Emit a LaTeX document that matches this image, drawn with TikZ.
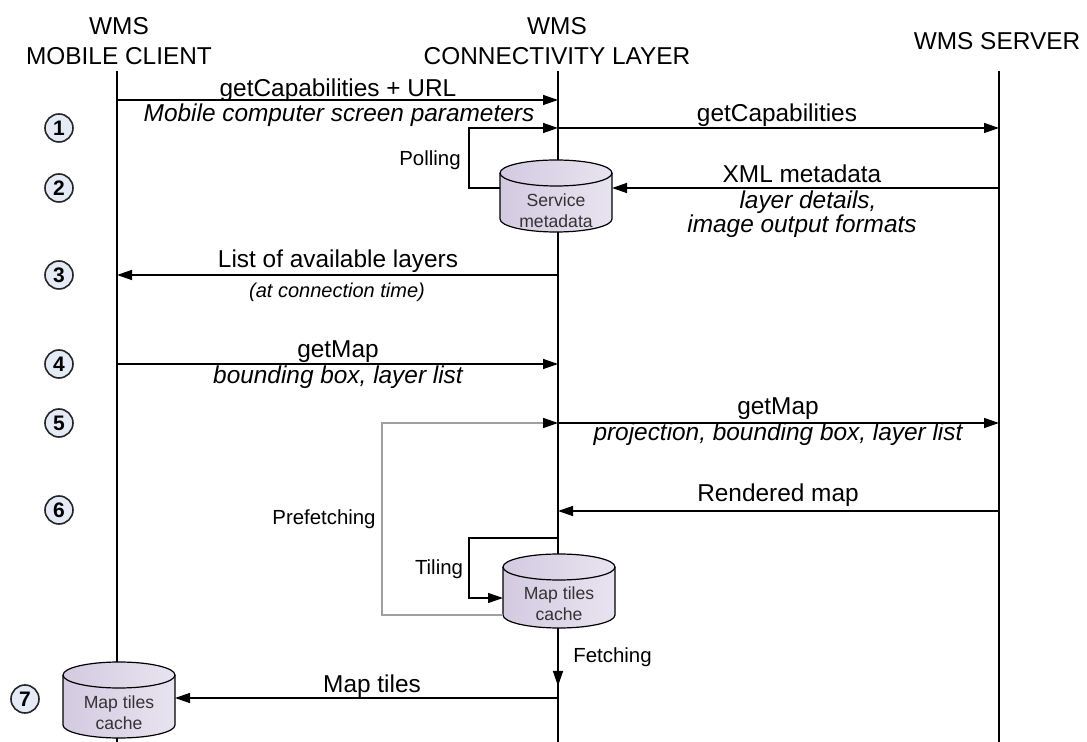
\documentclass[tikz,border=0pt]{standalone}
\usepackage{fontspec}
\setmainfont{Liberation Sans}
\usetikzlibrary{arrows.meta,calc}
\definecolor{cylA}{HTML}{D3CAE0}
\definecolor{cylB}{HTML}{E8E3F0}
\definecolor{numfill}{HTML}{E4EAF6}
\definecolor{loopgray}{HTML}{A0A0A0}
\definecolor{txtgray}{HTML}{333333}
\newcommand\dbcyl[1]{%
 \path[draw=black, line width=0.6pt, left color=cylA, right color=cylB]
  ($(#1.north west)+(0,-6.5pt)$) -- ($(#1.south west)+(0,6.5pt)$)
  arc[start angle=180,end angle=360,x radius=28pt,y radius=6.5pt]
  -- ($(#1.north east)+(0,-6.5pt)$)
  arc[start angle=0,end angle=180,x radius=28pt,y radius=6.5pt] -- cycle;
 \draw[line width=0.6pt] ($(#1.north west)+(0,-6.5pt)$)
  arc[start angle=180,end angle=360,x radius=28pt,y radius=6.5pt];
}
\begin{document}
\begin{tikzpicture}[x=0.5pt,y=0.5pt,
  lifeline/.style={line width=0.75pt},
  msg/.style={line width=0.7pt,-{Triangle[length=7.5pt,width=5pt]}},
  graymsg/.style={line width=0.75pt,draw=loopgray,-{Triangle[length=7.5pt,width=5pt,color=black]}},
  hdr/.style={font=\fontsize{12.2}{15}\selectfont,align=center,inner sep=0},
  lbl/.style={font=\fontsize{12.2}{14}\selectfont,inner sep=0,anchor=base},
  ilbl/.style={font=\fontsize{12.2}{14}\selectfont\itshape,inner sep=0,anchor=base},
  tlbl/.style={font=\fontsize{10}{12}\selectfont\itshape,inner sep=0,anchor=base},
  slbl/.style={font=\fontsize{10.2}{12}\selectfont,inner sep=0,anchor=base},
  num/.style={circle,draw=black!85,line width=0.8pt,fill=numfill,minimum size=14pt,inner sep=0,font=\fontsize{10.5}{11}\selectfont\bfseries},
  cylbox/.style={rectangle,minimum width=56pt,inner sep=0,outer sep=0},
  cyltxt/.style={font=\fontsize{8.8}{10.5}\selectfont,text=txtgray,align=center,inner sep=0}]
\useasboundingbox (0,0) rectangle (1087,-742);

% headers
\node[hdr] (hcl) at (119,-41) {WMS\\MOBILE CLIENT};
\node[hdr] (hcn) at (557,-41) {WMS\\CONNECTIVITY LAYER};
\node[hdr,anchor=base] (hsv) at (997,-50) {WMS SERVER};

% lifelines
\coordinate (cl) at (117,-71);
\coordinate (cn) at (558,-71);
\coordinate (sv) at (999,-71);
\coordinate (clb) at (117,-742);
\coordinate (cnb) at (558,-742);
\coordinate (svb) at (999,-742);
\draw[lifeline] (cl) -- (clb);
\draw[lifeline] (cn) -- (cnb);
\draw[lifeline] (sv) -- (svb);

% cylinders
\node[cylbox,minimum height=36pt] (sm) at (556,-196) {};
\dbcyl{sm}
\node[cyltxt] (smt) at (556,-211) {Service\\metadata};
\node[cylbox,minimum height=37pt] (mt) at (559,-591) {};
\dbcyl{mt}
\node[cyltxt] (mtt) at (559,-604) {Map tiles\\cache};
\node[cylbox,minimum height=38pt] (cc) at (119,-700) {};
\dbcyl{cc}
\node[cyltxt] (cct) at (119,-713) {Map tiles\\cache};

% step numbers
\node[num] (n1) at (59,-128) {1};
\node[num] (n2) at (59,-188) {2};
\node[num] (n3) at (59,-275) {3};
\node[num] (n4) at (59,-364) {4};
\node[num] (n5) at (59,-423) {5};
\node[num] (n6) at (59,-510) {6};
\node[num] (n7) at (25,-699) {7};

% 1
\draw[msg] (cl |- 0,-100) -- (cn |- 0,-100);
\node[lbl] (l1a) at (338,-97) {getCapabilities + URL};
\node[ilbl] (l1b) at (339,-122) {Mobile computer screen parameters};
\draw[msg] (cn |- 0,-128) -- (sv |- 0,-128);
\node[lbl] (l1c) at (777,-122) {getCapabilities};

% polling
\coordinate (pollc) at (469,-128);
\draw[msg] (sm.west |- 0,-188) -| (pollc) -- (cn |- pollc);
\node[slbl] (lpoll) at (430,-166) {Polling};

% 2
\draw[msg] (sv |- 0,-188) -- (sm.east |- 0,-188);
\node[lbl] (l2a) at (802,-183) {XML metadata};
\node[ilbl] (l2b) at (808,-209) {layer details,};
\node[ilbl] (l2c) at (802,-233) {image output formats};

% 3
\draw[msg] (cn |- 0,-275) -- (cl |- 0,-275);
\node[lbl] (l3a) at (338,-268) {List of available layers};
\node[tlbl] (l3b) at (337,-298) {(at connection time)};

% 4
\draw[msg] (cl |- 0,-364) -- (cn |- 0,-364);
\node[lbl] (l4a) at (338,-358) {getMap};
\node[ilbl] (l4b) at (338,-384) {bounding box, layer list};

% 5
\draw[msg] (cn |- 0,-423) -- (sv |- 0,-423);
\node[lbl] (l5a) at (778,-415) {getMap};
\node[ilbl] (l5b) at (778,-441) {projection, bounding box, layer list};

% prefetching
\coordinate (prec) at (382,-423);
\draw[graymsg] (mt.west |- 0,-615) -| (prec) -- (cn |- prec);
\node[slbl] (lpre) at (324,-525) {Prefetching};

% 6
\draw[msg] (sv |- 0,-511) -- (cn |- 0,-511);
\node[lbl] (l6a) at (778,-502) {Rendered map};

% tiling
\coordinate (tilc) at (469,-538);
\draw[msg] (cn |- tilc) -- (tilc) |- (mt.west |- 0,-598);
\node[slbl] (ltil) at (439,-575) {Tiling};

% fetching
\draw[msg] (mt.south -| cn) -- (cn |- 0,-686);
\node[slbl,anchor=base west] (lfet) at (573,-662) {Fetching};

% 7
\draw[msg] (cn |- 0,-698) -- (cc.east |- 0,-698);
\node[lbl] (l7a) at (372,-692) {Map tiles};
\end{tikzpicture}
\end{document}
